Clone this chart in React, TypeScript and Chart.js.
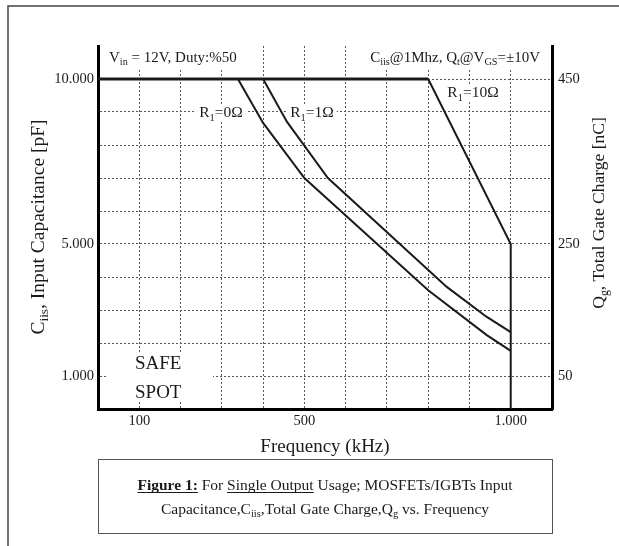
import React, { useEffect, useRef } from "react";
import { Chart, registerables } from "chart.js";

Chart.register(...registerables);

// ---- data (frequency in kHz, capacitance in pF) ----
const freqR0 = [339, 400, 500, 800, 942, 1000];
const capR0 = [10000, 8670, 7000, 3600, 2240, 1760];
const freqR1 = [400, 458, 557, 845, 942, 1000];
const capR1 = [10000, 8700, 7000, 3700, 2790, 2330];
const freqR10 = [0, 800, 1000, 1000];
const capR10 = [10000, 10000, 5000, 0];

const xTickLabels: Record<number, string> = { 100: "100", 500: "500", 1000: "1.000" };
const leftTickLabels: Record<number, string> = { 1000: "1.000", 5000: "5.000", 10000: "10.000" };
const rightTickLabels: Record<number, string> = { 1000: "50", 5000: "250", 10000: "450" };

const FAMILY = "'Liberation Serif', 'Times New Roman', serif";
const INK = "#1a1a1a";

type Part = { t: string; sub?: boolean; bold?: boolean; u?: boolean };

function measureRich(ctx: CanvasRenderingContext2D, parts: Part[], size: number) {
  const sub = size * 0.68;
  let total = 0;
  const widths = parts.map((p) => {
    ctx.font = `${p.bold ? "bold " : ""}${p.sub ? sub : size}px ${FAMILY}`;
    const w = ctx.measureText(p.t).width;
    total += w;
    return w;
  });
  return { total, widths, sub };
}

function drawRich(
  ctx: CanvasRenderingContext2D,
  parts: Part[],
  x: number,
  y: number,
  size: number,
  align: "left" | "center" | "right"
) {
  const { total, widths, sub } = measureRich(ctx, parts, size);
  let cx = align === "left" ? x : align === "center" ? x - total / 2 : x - total;
  const start = cx;
  ctx.textAlign = "left";
  ctx.textBaseline = "alphabetic";
  ctx.fillStyle = INK;
  parts.forEach((p, i) => {
    ctx.font = `${p.bold ? "bold " : ""}${p.sub ? sub : size}px ${FAMILY}`;
    const yy = p.sub ? y + size * 0.22 : y;
    ctx.fillText(p.t, cx, yy);
    if (p.u) ctx.fillRect(cx, y + 2, widths[i], 1);
    cx += widths[i];
  });
  return { left: start, right: start + total };
}

const vinParts: Part[] = [{ t: "V" }, { t: "in", sub: true }, { t: " = 12V, Duty:%50" }];
const ciisParts: Part[] = [
  { t: "C" }, { t: "iis", sub: true }, { t: "@1Mhz, Q" }, { t: "t", sub: true },
  { t: "@V" }, { t: "GS", sub: true }, { t: "=±10V" },
];
const r0Parts: Part[] = [{ t: "R" }, { t: "1", sub: true }, { t: "=0Ω" }];
const r1Parts: Part[] = [{ t: "R" }, { t: "1", sub: true }, { t: "=1Ω" }];
const r10Parts: Part[] = [{ t: "R" }, { t: "1", sub: true }, { t: "=10Ω" }];
const leftTitle: Part[] = [{ t: "C" }, { t: "iis", sub: true }, { t: ", Input Capacitance [pF]" }];
const rightTitle: Part[] = [{ t: "Q" }, { t: "g", sub: true }, { t: ", Total Gate Charge [nC]" }];
const caption1: Part[] = [
  { t: "Figure 1:", bold: true, u: true }, { t: " For " }, { t: "Single Output", u: true },
  { t: " Usage; MOSFETs/IGBTs Input" },
];
const caption2: Part[] = [
  { t: "Capacitance,C" }, { t: "iis", sub: true }, { t: ",Total Gate Charge,Q" }, { t: "g", sub: true },
  { t: " vs. Frequency" },
];

const annotationPlugin = {
  id: "annotations",
  beforeDatasetsDraw(chart: any) {
    const ctx: CanvasRenderingContext2D = chart.ctx;
    const ca = chart.chartArea;
    ctx.save();
    // white backed labels
    const box = (parts: Part[], x: number, yC: number, size: number, align: "left" | "center" | "right", padX: number, padY: number, clipRight?: number) => {
      const { total } = measureRich(ctx, parts, size);
      const l = align === "left" ? x : align === "center" ? x - total / 2 : x - total;
      let r = l + total + padX;
      if (clipRight !== undefined) r = Math.min(r, clipRight);
      ctx.fillStyle = "#fff";
      ctx.fillRect(l - padX, yC - padY, r - (l - padX), padY * 2);
      drawRich(ctx, parts, x, yC + size * 0.33, size, align);
    };
    // top annotations
    box(vinParts, ca.left + 11, ca.top + 11, 15, "left", 9, 12);
    box(ciisParts, ca.right - 12, ca.top + 11, 15, "right", 12, 12, ca.right - 3);
    // curve labels
    box(r0Parts, 221, 112, 15.5, "center", 3, 8);
    box(r1Parts, 312, 112, 15.5, "center", 3, 8);
    box(r10Parts, 473, 92, 15.5, "center", 3, 8);
    // SAFE SPOT
    ctx.fillStyle = "#fff";
    ctx.fillRect(ca.left + 10, 352, 105, 48);
    ctx.fillStyle = INK;
    ctx.font = `19px ${FAMILY}`;
    ctx.textAlign = "left";
    ctx.textBaseline = "alphabetic";
    ctx.fillText("SAFE", 135, 369);
    ctx.fillText("SPOT", 135, 398);
    ctx.restore();
  },
  afterDraw(chart: any) {
    const ctx: CanvasRenderingContext2D = chart.ctx;
    const ca = chart.chartArea;
    ctx.save();
    // outer frame
    ctx.strokeStyle = "#444";
    ctx.lineWidth = 1.5;
    ctx.beginPath();
    ctx.moveTo(8, 546);
    ctx.lineTo(8, 6);
    ctx.lineTo(619, 6);
    ctx.stroke();
    // axis titles
    ctx.save();
    ctx.translate(37, 227);
    ctx.rotate(-Math.PI / 2);
    drawRich(ctx, leftTitle, 0, 6.5, 19.5, "center");
    ctx.restore();
    ctx.save();
    ctx.translate(598, 213);
    ctx.rotate(-Math.PI / 2);
    drawRich(ctx, rightTitle, 0, 6, 17.5, "center");
    ctx.restore();
    ctx.fillStyle = INK;
    ctx.font = `19px ${FAMILY}`;
    ctx.textAlign = "center";
    ctx.textBaseline = "alphabetic";
    ctx.fillText("Frequency (kHz)", (ca.left + ca.right) / 2, 452);
    // caption box
    ctx.strokeStyle = "#555";
    ctx.lineWidth = 1;
    ctx.strokeRect(ca.left + 0.5, 459.5, ca.right - ca.left, 74);
    drawRich(ctx, caption1, (ca.left + ca.right) / 2, 490, 15.5, "center");
    drawRich(ctx, caption2, (ca.left + ca.right) / 2, 514, 15.5, "center");
    ctx.restore();
  },
};

const gridColor = (c: any) =>
  c.tick && (c.tick.value <= 0 || c.tick.value >= (c.scale.max ?? 0)) ? "rgba(0,0,0,0)" : "#555";

export default function App() {
  const ref = useRef<HTMLCanvasElement | null>(null);
  useEffect(() => {
    if (!ref.current) return;
    const pts = (xs: number[], ys: number[]) => xs.map((x, i) => ({ x, y: ys[i] }));
    const line = {
      borderColor: INK,
      borderWidth: 2,
      pointRadius: 0,
      tension: 0,
      fill: false,
    };
    const chart = new Chart(ref.current, {
      type: "line",
      data: {
        datasets: [
          {
            label: "R1=10Ω",
            data: pts(freqR10, capR10),
            ...line,
            segment: { borderWidth: (c: any) => (c.p0DataIndex === 0 ? 3 : 2) },
          },
          { label: "R1=0Ω", data: pts(freqR0, capR0), ...line },
          { label: "R1=1Ω", data: pts(freqR1, capR1), ...line },
        ],
      } as any,
      options: {
        animation: false,
        responsive: false,
        parsing: false as any,
        layout: { padding: { top: 46, left: 0, right: 0, bottom: 0 } },
        plugins: { legend: { display: false }, tooltip: { enabled: false }, title: { display: false } },
        scales: {
          x: {
            type: "linear",
            min: 0,
            max: 1100,
            afterFit: (s: any) => { s.height = 137; },
            grid: { color: gridColor, lineWidth: 1, drawTicks: false },
            border: { display: true, color: "#000", width: 3, dash: [2, 2] },
            ticks: {
              stepSize: 100,
              autoSkip: false,
              maxRotation: 0,
              padding: 3,
              color: INK,
              font: { family: FAMILY, size: 14.5 },
              callback: (v: any) => xTickLabels[v] ?? "",
            },
          },
          y: {
            type: "linear",
            position: "left",
            min: 0,
            max: 11000,
            afterFit: (s: any) => { s.width = 98; },
            grid: { color: gridColor, lineWidth: 1, drawTicks: false },
            border: { display: true, color: "#000", width: 3, dash: [2, 2] },
            ticks: {
              stepSize: 1000,
              autoSkip: false,
              padding: 4,
              color: INK,
              font: { family: FAMILY, size: 14.5 },
              callback: (v: any) => leftTickLabels[v] ?? "",
            },
          },
          y2: {
            type: "linear",
            position: "right",
            min: 0,
            max: 11000,
            afterFit: (s: any) => { s.width = 67; },
            grid: { display: false, drawTicks: false },
            border: { display: true, color: "#000", width: 3 },
            ticks: {
              stepSize: 1000,
              autoSkip: false,
              padding: 6,
              color: INK,
              font: { family: FAMILY, size: 14.5 },
              callback: (v: any) => rightTickLabels[v] ?? "",
            },
          },
        },
      } as any,
      plugins: [annotationPlugin],
    });
    return () => chart.destroy();
  }, []);
  return (
    <div style={{ position: "fixed", left: 0, top: 0, width: 619, height: 546, background: "#fff" }}>
      <canvas ref={ref} width={619} height={546} style={{ display: "block" }} />
    </div>
  );
}
